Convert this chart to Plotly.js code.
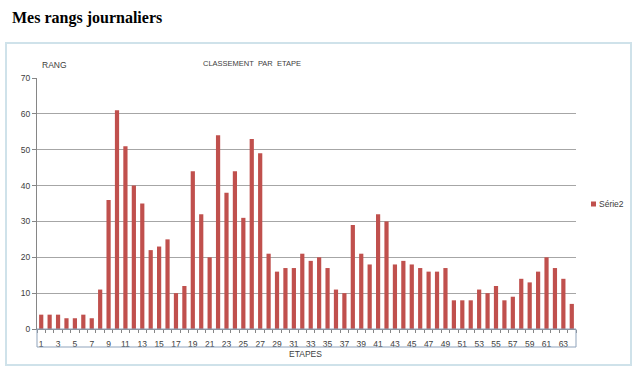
<!DOCTYPE html>
<html>
<head>
<meta charset="utf-8">
<script src="https://cdn.plot.ly/plotly-3.0.1.min.js"></script>
<style>
html,body{margin:0;padding:0;background:#fff;}
#chart{width:641px;height:375px;}
</style>
</head>
<body>
<div id="chart"></div>
<script>
// Data
const etapes = Array.from({length: 64}, (_, i) => i + 1);
const rangs = [4,4,4,3,3,4,3,11,36,61,51,40,35,22,23,25,10,12,44,32,20,54,38,44,31,53,49,21,16,17,17,21,19,20,17,11,10,29,21,18,32,30,18,19,18,17,16,16,17,8,8,8,11,10,12,8,9,14,13,16,20,17,14,7];
const xTickVals = [1,3,5,7,9,11,13,15,17,19,21,23,25,27,29,31,33,35,37,39,41,43,45,47,49,51,53,55,57,59,61,63];
const yTickVals = [0,10,20,30,40,50,60,70];
const seriesName = 'Série2';

// plot area in pixels
const L = 37, R = 576, T = 78, B = 329, W = 641, H = 375;
const px = x => (x - L) / (R - L);
const py = y => (B - y) / (B - T);

const txtFont = {family: 'Liberation Sans, Arial, sans-serif', size: 8.5, color: '#404040'};
const barColor = '#C0504D';

const trace = {
  type: 'bar',
  x: etapes,
  y: rangs,
  name: seriesName,
  marker: {color: barColor, line: {width: 0}},
  hoverinfo: 'x+y'
};

const layout = {
  width: W, height: H,
  margin: {l: L, r: W - R, t: T, b: H - B, pad: 0, autoexpand: false},
  paper_bgcolor: '#fff', plot_bgcolor: '#fff',
  bargap: 0.5,
  showlegend: false,
  title: {text: 'Mes rangs journaliers', x: 12 / W, xanchor: 'left', xref: 'container',
          y: 1 - 17 / H, yanchor: 'middle', yref: 'container',
          font: {family: 'Liberation Serif, Times New Roman, serif', size: 16, color: '#000', weight: 'bold'}},
  xaxis: {
    type: 'linear', range: [0.5, 64.5], tickmode: 'array', tickvals: xTickVals,
    ticks: '', showgrid: false, zeroline: false, showline: true, linecolor: '#868686', linewidth: 1,
    tickfont: txtFont, ticklabelstandoff: 7,
    minor: {tick0: 0.5, dtick: 1, ticks: 'outside', ticklen: 3, tickcolor: '#868686', showgrid: false}
  },
  yaxis: {
    range: [0, 70], tickmode: 'array', tickvals: yTickVals,
    ticks: 'outside', ticklen: 4, tickcolor: '#868686',
    showgrid: true, gridcolor: '#a6a6a6', gridwidth: 1,
    zeroline: false, showline: true, linecolor: '#868686', linewidth: 1,
    tickfont: txtFont
  },
  annotations: [
    {text: 'CLASSEMENT  PAR  ETAPE', xref: 'paper', yref: 'paper', x: px(252), y: py(63),
     showarrow: false, xanchor: 'center', yanchor: 'middle', font: Object.assign({}, txtFont, {size: 7.5})},
    {text: 'RANG', xref: 'paper', yref: 'paper', x: px(40), y: py(65),
     showarrow: false, xanchor: 'left', yanchor: 'middle', font: txtFont},
    {text: 'ETAPES', xref: 'paper', yref: 'paper', x: px(305), y: py(354),
     showarrow: false, xanchor: 'center', yanchor: 'middle', font: txtFont},
    {text: seriesName, xref: 'paper', yref: 'paper', x: px(597), y: py(204),
     showarrow: false, xanchor: 'left', yanchor: 'middle', font: txtFont}
  ],
  shapes: [
    {type: 'rect', xref: 'paper', yref: 'paper', x0: px(6), x1: px(631), y0: py(365), y1: py(43),
     line: {color: '#cfe2ea', width: 2}, layer: 'below'},
    {type: 'rect', xref: 'paper', yref: 'paper', x0: 0, x1: 1, y0: py(347), y1: 0,
     line: {color: '#8fa3bb', width: 1}, layer: 'above'},
    {type: 'rect', xref: 'paper', yref: 'paper', x0: px(591), x1: px(596), y0: py(206.5), y1: py(201.5),
     line: {width: 0}, fillcolor: barColor}
  ]
};

Plotly.newPlot('chart', [trace], layout, {displayModeBar: false, staticPlot: true});
</script>
</body>
</html>
